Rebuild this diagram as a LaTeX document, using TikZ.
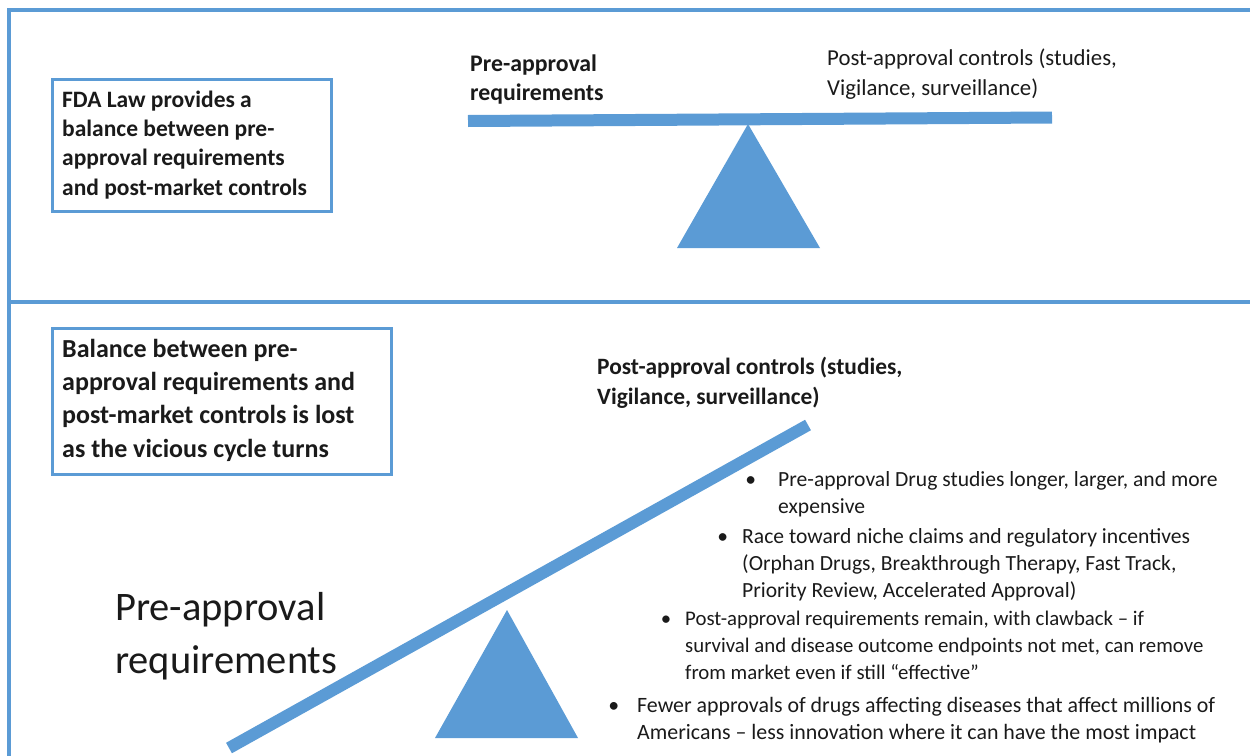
\documentclass[tikz,border=0pt]{standalone}
\usepackage{fontspec}
\setmainfont{Carlito}
\definecolor{sblue}{HTML}{5B9BD5}
\definecolor{ink}{HTML}{1A1A1A}
\tikzset{
  frameline/.style={draw=sblue, line width=3.5pt},
  boxframe/.style={draw=sblue, line width=3pt, fill=white, inner sep=0pt},
  beam/.style={draw=sblue, line width=12pt, line cap=butt},
  fulcrum/.style={fill=sblue, draw=none},
  txt/.style={anchor=base west, inner sep=0pt, align=left, text=ink},
  boldtxt/.style={txt, font=\bfseries\fontsize{23.5}{29.3}\selectfont},
  boldbig/.style={txt, font=\bfseries\fontsize{26}{33.3}\selectfont},
  regtxt/.style={txt, font=\fontsize{22.8}{30}\selectfont},
  bigtxt/.style={txt, font=\fontsize{40.5}{53}\selectfont},
  bullettxt/.style={txt, font=\fontsize{21.6}{26.8}\selectfont},
}
\begin{document}
\begin{tikzpicture}[x=1pt,y=-1pt]
\useasboundingbox (0,0) rectangle (1250,755);
% frame
\coordinate (ftl) at (9,10);
\coordinate (ftr) at (1252,10);
\coordinate (fbl) at (9,757);
\coordinate (dl) at (9,302);
\coordinate (dr) at (1252,302);
\draw[frameline] (ftr) -- (ftl) -- (fbl);
\draw[frameline, line width=4pt] (dl) -- (dr);

% ---------- top panel ----------
\node[boxframe, anchor=north west, minimum width=279pt, minimum height=132pt] (box1) at (51,78) {};
\node[boldtxt] (box1text) at (62,195) {FDA Law provides a\\balance between pre-\\approval requirements\\and post-market controls};

\coordinate (tbl) at (468,121);
\coordinate (tbr) at (1052,117.5);
\draw[beam] (tbl) -- (tbr);
\coordinate (tapex) at (748,124);
\coordinate (tbasel) at (677,248);
\coordinate (tbaser) at (820,248);
\fill[fulcrum] (tapex) -- (tbaser) -- (tbasel) -- cycle;

\node[txt, font=\bfseries\fontsize{23.8}{28.5}\selectfont] (prelabel) at (470,100) {Pre-approval\\requirements};
\node[regtxt] (postlabel) at (827,95) {Post-approval controls (studies,\\Vigilance, surveillance)};

% ---------- bottom panel ----------
\node[boxframe, anchor=north west, minimum width=339pt, minimum height=146pt] (box2) at (51,327) {};
\node[boldbig] (box2text) at (62,457) {Balance between pre-\\approval requirements and\\post-market controls is lost\\as the vicious cycle turns};

\node[txt, font=\bfseries\fontsize{23.4}{29.5}\selectfont] (postlabel2) at (597,404) {Post-approval controls (studies,\\Vigilance, surveillance)};

\node[bigtxt] (prelabel2) at (115,673) {Pre-approval\\requirements};

\coordinate (bbl) at (229,748);
\coordinate (bbr) at (808,425);
\draw[beam] (bbl) -- (bbr);
\coordinate (bapex) at (507,610);
\coordinate (bbasel) at (435,738);
\coordinate (bbaser) at (578,738);
\fill[fulcrum] (bapex) -- (bbaser) -- (bbasel) -- cycle;

\node[bullettxt] (item1) at (778,513) {\llap{\textbullet\hspace{22pt}}Pre-approval Drug studies longer, larger, and more\\expensive};
\node[bullettxt] (item2) at (742,597) {\llap{\textbullet\hspace{14pt}}Race toward niche claims and regulatory incentives\\(Orphan Drugs, Breakthrough Therapy, Fast Track,\\Priority Review, Accelerated Approval)};
\node[bullettxt, font=\fontsize{20.8}{26.8}\selectfont] (item3) at (685,679) {\llap{\textbullet\hspace{14pt}}Post-approval requirements remain, with clawback -- if\\survival and disease outcome endpoints not met, can remove\\from market even if still “effective”};
\node[bullettxt, font=\fontsize{21.9}{26.8}\selectfont] (item4) at (637,739) {\llap{\textbullet\hspace{18pt}}Fewer approvals of drugs affecting diseases that affect millions of\\Americans -- less innovation where it can have the most impact};
\end{tikzpicture}
\end{document}
